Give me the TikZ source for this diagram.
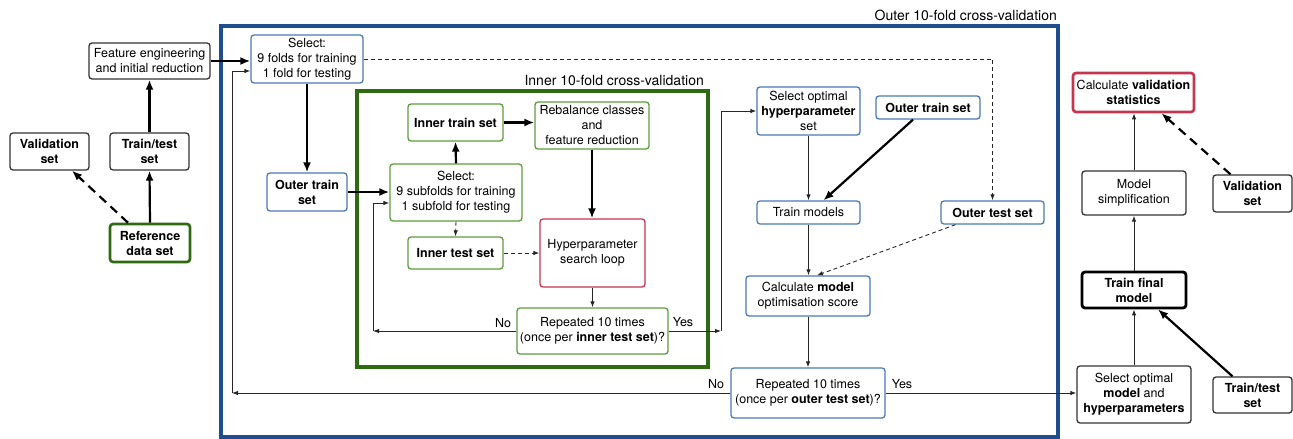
\documentclass[tikz,border=0pt]{standalone}
\usepackage{fontspec}
\setmainfont{TeX Gyre Heros}
\usetikzlibrary{arrows.meta,calc}
\definecolor{bluebox}{HTML}{4A7AB8}
\definecolor{blueframe}{HTML}{1F4E8E}
\definecolor{greenbox}{HTML}{5E9A40}
\definecolor{greenframe}{HTML}{2E6A10}
\definecolor{redbox}{HTML}{C43550}
\definecolor{greybox}{HTML}{333333}
\begin{document}
\begin{tikzpicture}[x=1pt,y=-1pt,
  font=\fontsize{12.5}{15}\selectfont,
  box/.style={draw, rounded corners=3pt, line width=1.3pt, align=center, inner sep=0pt, fill=white},
  kbox/.style={box, draw=greybox},
  bbox/.style={box, draw=bluebox},
  gbox/.style={box, draw=greenbox},
  rbox/.style={box, draw=redbox},
  frame/.style={draw, line width=3.5pt, inner sep=0pt},
  framelabel/.style={font=\fontsize{14}{16}\selectfont, inner sep=0pt},
  thinar/.style={-{Latex[length=6pt,width=4.5pt]}, line width=0.9pt, draw=black!85},
  thickar/.style={-{Latex[length=10pt,width=8pt]}, line width=2.2pt, draw=black},
  thindash/.style={thinar, dash pattern=on 4pt off 3pt},
  thickdash/.style={thickar, dash pattern=on 9pt off 6pt},
]
\useasboundingbox (0,0) rectangle (1293,439);

% frames
\node[frame, draw=blueframe, minimum width=837pt, minimum height=411pt] (outerF) at (639.5,231.5) {};
\node[frame, draw=greenframe, minimum width=351pt, minimum height=276pt] (innerF) at (532.5,229) {};
\node[framelabel, anchor=base east] (outerL) at (1057,20.5) {Outer 10-fold cross-validation};
\node[framelabel, anchor=base east] (innerL) at (704,85) {Inner 10-fold cross-validation};

% left part
\node[kbox, minimum width=121pt, minimum height=36pt] (feat) at (149.5,61) {Feature engineering\\and initial reduction};
\node[kbox, minimum width=79pt, minimum height=37pt] (valL) at (49.5,151.5) {\textbf{Validation}\\\textbf{set}};
\node[kbox, minimum width=79pt, minimum height=37pt] (ttL) at (149.5,151.5) {\textbf{Train/test}\\\textbf{set}};
\node[box, draw=greenframe, line width=2.6pt, minimum width=80pt, minimum height=38pt] (ref) at (150,243) {\textbf{Reference}\\\textbf{data set}};

% outer loop (left)
\node[bbox, minimum width=112pt, minimum height=48pt] (selO) at (307,59) {Select:\\9 folds for training\\1 fold for testing};
\node[bbox, minimum width=80pt, minimum height=38pt] (otrL) at (307,192) {\textbf{Outer train}\\\textbf{set}};

% inner loop
\node[gbox, minimum width=95pt, minimum height=37pt] (itr) at (455.5,122.5) {\textbf{Inner train set}};
\node[gbox, minimum width=114pt, minimum height=47pt] (reb) at (592,125.5) {Rebalance classes\\and\\feature reduction};
\node[gbox, minimum width=132pt, minimum height=57pt] (selI) at (456,192.5) {Select:\\9 subfolds for training\\1 subfold for testing};
\node[gbox, minimum width=95pt, minimum height=32pt] (ite) at (455.5,253) {\textbf{Inner test set}};
\node[rbox, minimum width=105pt, minimum height=68pt] (hyp) at (592.5,253) {Hyperparameter\\search loop};
\node[gbox, minimum width=151pt, minimum height=46pt] (repI) at (592.5,331) {Repeated 10 times\\(once per \textbf{inner test set})?};

% outer loop (right)
\node[bbox, minimum width=103pt, minimum height=48pt] (sopt) at (808.5,111) {Select optimal\\\textbf{hyperparameter}\\set};
\node[bbox, minimum width=104pt, minimum height=23pt] (otrR) at (928,107.5) {\textbf{Outer train set}};
\node[bbox, minimum width=103pt, minimum height=23pt] (trm) at (808.5,212.5) {Train models};
\node[bbox, minimum width=103pt, minimum height=23pt] (ote) at (992.5,212.5) {\textbf{Outer test set}};
\node[bbox, minimum width=124pt, minimum height=40pt] (calc) at (808,296) {Calculate \textbf{model}\\optimisation score};
\node[bbox, minimum width=154pt, minimum height=50pt] (repO) at (808,393) {Repeated 10 times\\(once per \textbf{outer test set})?};

% final part
\node[box, draw=redbox, line width=2.6pt, minimum width=121pt, minimum height=39pt] (cval) at (1133.5,92.5) {Calculate \textbf{validation}\\\textbf{statistics}};
\node[kbox, minimum width=104pt, minimum height=44pt] (msim) at (1134,193) {Model\\simplification};
\node[kbox, minimum width=79pt, minimum height=37pt] (valR) at (1252.5,193.5) {\textbf{Validation}\\\textbf{set}};
\node[box, draw=black, line width=2.8pt, minimum width=104pt, minimum height=36pt] (tfm) at (1134,290) {\textbf{Train final}\\\textbf{model}};
\node[kbox, minimum width=114pt, minimum height=57pt] (somh) at (1134,394.5) {Select optimal\\\textbf{model} and\\\textbf{hyperparameters}};
\node[kbox, minimum width=79pt, minimum height=36pt] (ttR) at (1252.5,395) {\textbf{Train/test}\\\textbf{set}};

% labels
\node[inner sep=0pt] (noI) at (503,323) {No};
\node[inner sep=0pt] (yesI) at (683,322) {Yes};
\node[inner sep=0pt] (noO) at (716,384) {No};
\node[inner sep=0pt] (yesO) at (902,384) {Yes};

% corner coordinates
\coordinate (cNoI) at (373,331);
\coordinate (cYes) at (721,331);
\coordinate (cNoO) at (232,393);

% left connectors
\draw[thickar] (ref.north) -- (ttL.south);
\draw[thickar] (ttL.north) -- (feat.south);
\draw[thickdash] ([xshift=-22pt]ref.north) -- ([xshift=22.5pt]valL.south);
\draw[thickar] (feat.east) -- (feat.east -| selO.west);
\draw[thickar] (selO.south) -- (otrL.north);
\draw[thickar] (otrL.east) -- (otrL.east -| selI.west);

% inner connectors
\draw[thickar] (selI.north) -- (itr.south);
\draw[thickar] (itr.east) -- (itr.east -| reb.west);
\draw[thickar] (reb.south) -- (reb.south |- hyp.north);
\draw[thindash] (selI.south) -- (ite.north);
\draw[thindash] (ite.east) -- (ite.east -| hyp.west);
\draw[thinar] (hyp.south) -- (hyp.south |- repI.north);
\draw[thinar] (repI.west) -- (cNoI);
\draw[thinar] (cNoI) |- ([yshift=-10.5pt]selI.west);
\draw[thinar] (repI.east) -- (cYes);
\draw[thinar] (cYes) |- (sopt.west);

% outer right connectors
\draw[thindash] (selO.east) -| (ote.north);
\draw[thinar] (sopt.south) -- (trm.north);
\draw[thickar] ([xshift=-15pt]otrR.south) -- ([xshift=15pt]trm.north);
\draw[thinar] (trm.south) -- (trm.south |- calc.north);
\draw[thindash] ([xshift=-37pt]ote.south) -- ([xshift=9pt]calc.north);
\draw[thinar] (calc.south) -- (repO.north);
\draw[thinar] (repO.west) -- (cNoO);
\draw[thinar] (cNoO) |- ([yshift=-12pt]selO.west);
\draw[thinar] (repO.east) -- (repO.east -| somh.west);

% final connectors
\draw[thinar] (somh.north) -- (tfm.south);
\draw[thinar] (tfm.north) -- (msim.south);
\draw[thinar] (msim.north) -- (msim.north |- cval.south);
\draw[thickar] ([xshift=-20pt]ttR.north) -- ([xshift=24pt]tfm.south);
\draw[thickdash] ([xshift=-22pt]valR.north) -- ([xshift=28pt]cval.south);
\end{tikzpicture}
\end{document}
